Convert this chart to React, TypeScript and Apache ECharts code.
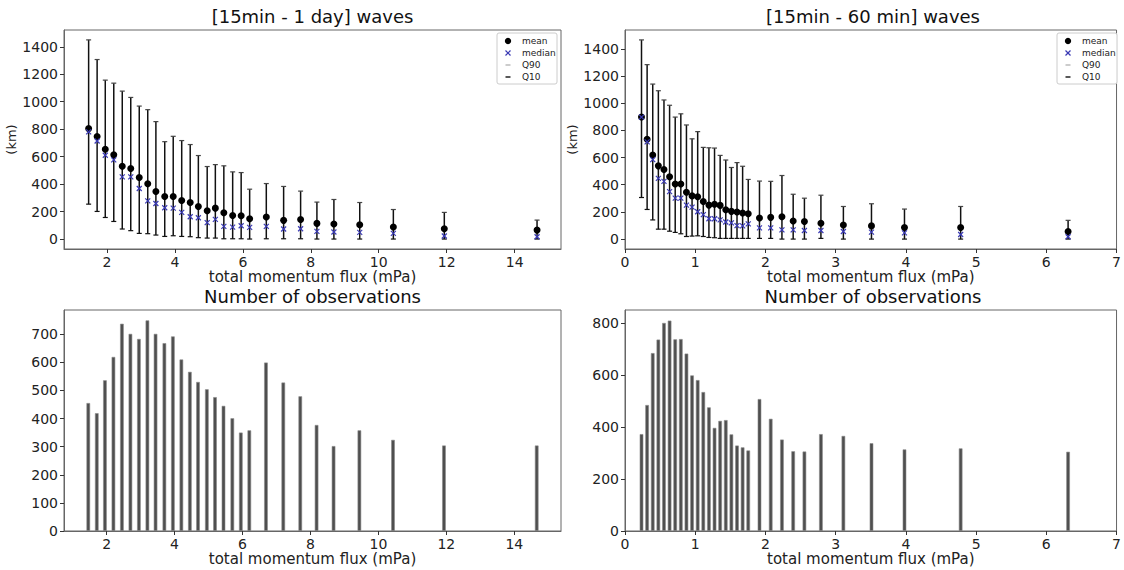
import React, { useEffect, useRef } from "react";
import * as echarts from "echarts";

// ---- Left panels: [15min - 1 day] waves ----
const fluxDay = [1.46, 1.71, 1.95, 2.2, 2.45, 2.7, 2.95, 3.2, 3.44, 3.7, 3.95, 4.2, 4.45, 4.69, 4.95, 5.19, 5.44, 5.7, 5.95, 6.2, 6.69, 7.2, 7.7, 8.18, 8.68, 9.44, 10.43, 11.93, 14.66];
const meanDay = [804, 746, 654, 613, 530, 513, 448, 402, 346, 310, 310, 281, 266, 237, 206, 225, 191, 172, 169, 148, 160, 136, 142, 114, 109, 104, 87, 75, 65];
const medianDay = [780, 714, 610, 576, 453, 453, 368, 278, 259, 228, 225, 194, 162, 155, 119, 143, 92, 87, 97, 85, 92, 73, 75, 56, 51, 48, 41, 22, 17];
const q90Day = [1450, 1307, 1157, 1135, 1077, 1031, 968, 942, 855, 709, 748, 717, 688, 608, 528, 542, 533, 489, 484, 363, 404, 383, 349, 269, 288, 266, 215, 194, 138];
const q10Day = [254, 201, 157, 128, 73, 61, 41, 39, 29, 19, 24, 19, 17, 10, 7, 7, 2, 2, 2, 0, 2, 2, 2, 0, 0, 0, 0, 0, 0];
const countDay = [455, 419, 536, 619, 737, 701, 683, 749, 701, 668, 692, 610, 566, 530, 504, 476, 445, 401, 350, 358, 599, 528, 479, 377, 302, 358, 324, 304, 304];

// ---- Right panels: [15min - 60 min] waves ----
const fluxHour = [0.235, 0.315, 0.395, 0.475, 0.555, 0.635, 0.715, 0.795, 0.875, 0.955, 1.035, 1.115, 1.195, 1.275, 1.355, 1.435, 1.515, 1.595, 1.675, 1.755, 1.915, 2.075, 2.235, 2.395, 2.555, 2.79, 3.11, 3.51, 3.98, 4.78, 6.31];
const meanHour = [898, 735, 619, 539, 512, 459, 405, 405, 345, 318, 311, 277, 250, 257, 248, 216, 204, 199, 192, 187, 155, 160, 165, 133, 129, 116, 103, 97, 85, 85, 56];
const medianHour = [898, 716, 585, 447, 425, 349, 301, 301, 250, 235, 201, 180, 150, 150, 141, 126, 119, 99, 97, 112, 83, 83, 68, 68, 63, 63, 56, 51, 46, 34, 17];
const q90Hour = [1466, 1284, 1141, 1092, 1024, 985, 898, 922, 840, 738, 791, 675, 672, 670, 616, 582, 527, 563, 536, 439, 427, 425, 468, 330, 301, 323, 240, 260, 221, 240, 138];
const q10Hour = [306, 218, 141, 73, 73, 58, 49, 39, 19, 22, 24, 19, 12, 10, 5, 5, 5, 5, 5, 5, 5, 5, 0, 0, 0, 5, 0, 0, 0, 0, 0];
const countHour = [373, 485, 685, 737, 801, 810, 738, 739, 683, 599, 581, 535, 476, 397, 424, 427, 372, 329, 322, 310, 508, 432, 352, 307, 306, 373, 366, 338, 314, 318, 305];

const titles = ["[15min - 1 day] waves", "[15min - 60 min] waves", "Number of observations", "Number of observations"];
const xName = "total momentum flux (mPa)";
const yName = "(km)";
const xTicksDay = [2, 4, 6, 8, 10, 12, 14];
const yTicksKm = [0, 200, 400, 600, 800, 1000, 1200, 1400];
const yTicksCountDay = [0, 100, 200, 300, 400, 500, 600, 700];
const yTicksCountHour = [0, 200, 400, 600, 800];
const legendLabels = ["mean", "median", "Q90", "Q10"];

const FONT = "DejaVu Sans";
const MEDIAN_COLOR = "#3a3ab4";
const plain = (v: number) => String(v);

const grids = [
  { left: 64, top: 30, width: 497, height: 219 },
  { left: 625, top: 30, width: 496, height: 219 },
  { left: 64, top: 310, width: 497, height: 221 },
  { left: 625, top: 310, width: 496, height: 221 },
];

function xAxisCfg(gridIndex: number, min: number, max: number, ticks: number[] | null, nameGap: number) {
  const a: any = {
    type: "value",
    gridIndex,
    min,
    max,
    name: xName,
    nameLocation: "middle",
    nameGap,
    nameTextStyle: { fontFamily: FONT, fontSize: 15, color: "#222" },
    splitLine: { show: false },
    axisLine: { show: true, onZero: false, lineStyle: { color: "#666", width: 1 } },
    axisTick: { show: true, length: 4, lineStyle: { color: "#333" } },
    axisLabel: { fontFamily: FONT, fontSize: 14, color: "#222", margin: 6, formatter: plain },
  };
  if (ticks) {
    a.axisTick.customValues = ticks;
    a.axisLabel.customValues = ticks;
  } else {
    a.interval = 1;
  }
  return a;
}

function yAxisCfg(gridIndex: number, min: number, max: number, ticks: number[], name: string) {
  return {
    type: "value",
    gridIndex,
    min,
    max,
    name,
    nameLocation: "middle",
    nameGap: 42,
    nameRotate: 90,
    nameTextStyle: { fontFamily: FONT, fontSize: 13, color: "#222" },
    splitLine: { show: false },
    axisLine: { show: true, onZero: false, lineStyle: { color: "#666", width: 1 } },
    axisTick: { show: true, length: 4, lineStyle: { color: "#333" }, customValues: ticks },
    axisLabel: { fontFamily: FONT, fontSize: 14, color: "#222", margin: 6, customValues: ticks, formatter: plain },
  };
}

function errorBarSeries(idx: number, xs: number[], lo: number[], hi: number[]) {
  return {
    type: "custom",
    xAxisIndex: idx,
    yAxisIndex: idx,
    z: 2,
    data: xs.map((x, i) => [x, lo[i], hi[i]]),
    renderItem: (params: any, api: any) => {
      const p0 = api.coord([api.value(0), api.value(1)]);
      const p1 = api.coord([api.value(0), api.value(2)]);
      const c = 2.5;
      return {
        type: "group",
        children: [
          { type: "line", shape: { x1: p0[0], y1: p0[1], x2: p1[0], y2: p1[1] }, style: { stroke: "#111", lineWidth: 1.5 } },
          { type: "line", shape: { x1: p1[0] - c, y1: p1[1], x2: p1[0] + c, y2: p1[1] }, style: { stroke: "#444", lineWidth: 1.2 } },
          { type: "line", shape: { x1: p0[0] - c, y1: p0[1], x2: p0[0] + c, y2: p0[1] }, style: { stroke: "#111", lineWidth: 1.2 } },
        ],
      };
    },
  };
}

function meanSeries(idx: number, xs: number[], ys: number[]) {
  return {
    type: "scatter",
    name: "mean",
    xAxisIndex: idx,
    yAxisIndex: idx,
    z: 3,
    symbol: "circle",
    symbolSize: 7,
    itemStyle: { color: "#000", opacity: 1 },
    data: xs.map((x, i) => [x, ys[i]]),
  };
}

function medianSeries(idx: number, xs: number[], ys: number[]) {
  return {
    type: "custom",
    name: "median",
    xAxisIndex: idx,
    yAxisIndex: idx,
    z: 4,
    data: xs.map((x, i) => [x, ys[i]]),
    renderItem: (params: any, api: any) => {
      const p = api.coord([api.value(0), api.value(1)]);
      const s = 2.5;
      return {
        type: "group",
        children: [
          { type: "line", shape: { x1: p[0] - s, y1: p[1] - s, x2: p[0] + s, y2: p[1] + s }, style: { stroke: MEDIAN_COLOR, lineWidth: 1.2 } },
          { type: "line", shape: { x1: p[0] - s, y1: p[1] + s, x2: p[0] + s, y2: p[1] - s }, style: { stroke: MEDIAN_COLOR, lineWidth: 1.2 } },
        ],
      };
    },
  };
}

function barSeries(idx: number, xs: number[], ys: number[]) {
  return {
    type: "bar",
    xAxisIndex: idx,
    yAxisIndex: idx,
    barWidth: 3.6,
    itemStyle: { color: "#4f4f4f", borderColor: "#8a8a8a", borderWidth: 0.6 },
    data: xs.map((x, i) => [x, ys[i]]),
  };
}

function legendGraphic(x: number, y: number) {
  const children: any[] = [
    { type: "rect", shape: { x: 0, y: 0, width: 60, height: 51, r: 2 }, style: { fill: "#fff", stroke: "#cccccc", lineWidth: 1 } },
  ];
  const rows = [8, 20, 32, 44];
  const mx = 11;
  children.push({ type: "circle", shape: { cx: mx, cy: rows[0], r: 3.2 }, style: { fill: "#000" } });
  children.push({ type: "line", shape: { x1: mx - 2.5, y1: rows[1] - 2.5, x2: mx + 2.5, y2: rows[1] + 2.5 }, style: { stroke: MEDIAN_COLOR, lineWidth: 1.2 } });
  children.push({ type: "line", shape: { x1: mx - 2.5, y1: rows[1] + 2.5, x2: mx + 2.5, y2: rows[1] - 2.5 }, style: { stroke: MEDIAN_COLOR, lineWidth: 1.2 } });
  children.push({ type: "line", shape: { x1: mx - 2.5, y1: rows[2], x2: mx + 2.5, y2: rows[2] }, style: { stroke: "#999", lineWidth: 1 } });
  children.push({ type: "line", shape: { x1: mx - 2.5, y1: rows[3], x2: mx + 2.5, y2: rows[3] }, style: { stroke: "#222", lineWidth: 1.5 } });
  legendLabels.forEach((t, i) => {
    children.push({
      type: "text",
      x: 25,
      y: rows[i],
      style: { text: t, fontSize: 9, fontFamily: FONT, fill: "#222", align: "left", verticalAlign: "middle" },
    });
  });
  return { type: "group", x, y, z: 100, children };
}

export default function App() {
  const ref = useRef<HTMLDivElement>(null);
  useEffect(() => {
    if (!ref.current) return;
    const chart = echarts.init(ref.current, null, { renderer: "svg" });
    const titleCenters = [312.5, 873, 312.5, 873];
    const titleTops = [7, 7, 287, 287];
    chart.setOption({
      animation: false,
      backgroundColor: "#fff",
      title: titles.map((t, i) => ({
        text: t,
        left: titleCenters[i],
        top: titleTops[i],
        textAlign: "center",
        padding: 0,
        textStyle: { fontFamily: FONT, fontSize: 18, fontWeight: "normal", color: "#111" },
      })),
      grid: grids.map((g) => ({ ...g, show: true, borderColor: "#666", borderWidth: 1, backgroundColor: "transparent", containLabel: false })),
      xAxis: [
        xAxisCfg(0, 0.735, 15.365, xTicksDay, 15),
        xAxisCfg(1, 0, 7, null, 15),
        xAxisCfg(2, 0.745, 15.375, xTicksDay, 14),
        xAxisCfg(3, 0, 7, null, 14),
      ],
      yAxis: [
        yAxisCfg(0, -72.5, 1522, yTicksKm, yName),
        yAxisCfg(1, -73, 1539, yTicksKm, yName),
        yAxisCfg(2, 0, 786, yTicksCountDay, ""),
        yAxisCfg(3, 0, 851, yTicksCountHour, ""),
      ],
      series: [
        errorBarSeries(0, fluxDay, q10Day, q90Day),
        meanSeries(0, fluxDay, meanDay),
        medianSeries(0, fluxDay, medianDay),
        errorBarSeries(1, fluxHour, q10Hour, q90Hour),
        meanSeries(1, fluxHour, meanHour),
        medianSeries(1, fluxHour, medianHour),
        barSeries(2, fluxDay, countDay),
        barSeries(3, fluxHour, countHour),
      ],
      graphic: [legendGraphic(497, 33), legendGraphic(1057, 33)],
    });
    return () => chart.dispose();
  }, []);
  return <div ref={ref} style={{ position: "fixed", left: 0, top: 0, width: 1124, height: 570 }} />;
}
